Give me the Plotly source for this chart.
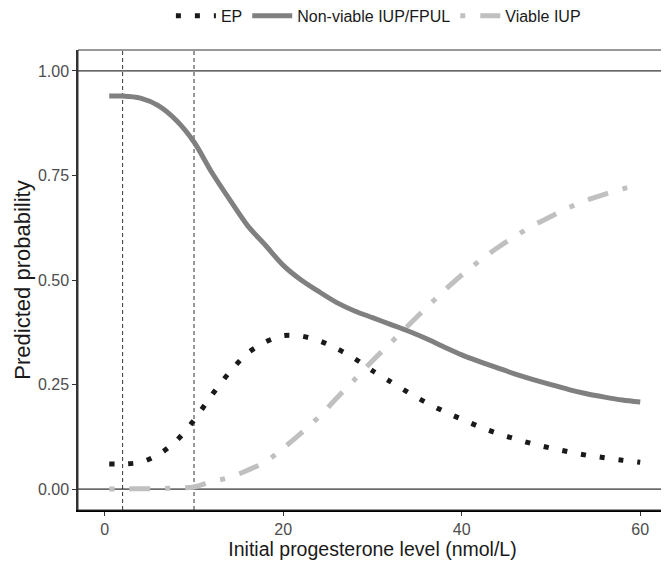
import plotly.graph_objects as go

# Initial progesterone level (nmol/L)
progesterone = [0.5, 2, 4, 6, 8, 10, 12, 14, 16, 18, 20, 22, 24, 26, 28, 30,
                32, 34, 36, 38, 40, 42, 44, 46, 48, 50, 52, 54, 56, 58, 60]

# Predicted probabilities
ep = [0.060, 0.060, 0.064, 0.082, 0.115, 0.165, 0.225, 0.280, 0.325, 0.352,
      0.367, 0.366, 0.355, 0.336, 0.312, 0.283, 0.257, 0.231, 0.207, 0.186,
      0.167, 0.149, 0.133, 0.120, 0.108, 0.098, 0.089, 0.081, 0.075, 0.069, 0.064]

nonviable = [0.940, 0.940, 0.935, 0.917, 0.882, 0.830, 0.757, 0.692, 0.630, 0.583,
             0.535, 0.500, 0.472, 0.446, 0.426, 0.410, 0.394, 0.378, 0.360, 0.340,
             0.321, 0.305, 0.290, 0.275, 0.262, 0.250, 0.238, 0.228, 0.220, 0.213, 0.208]

viable = [0.000, 0.000, 0.001, 0.001, 0.003, 0.005, 0.018, 0.028, 0.045, 0.065,
          0.098, 0.134, 0.173, 0.218, 0.262, 0.307, 0.349, 0.391, 0.433, 0.474,
          0.512, 0.546, 0.577, 0.605, 0.630, 0.652, 0.673, 0.691, 0.705, 0.718, 0.728]

series_names = ["EP", "Non-viable IUP/FPUL", "Viable IUP"]

x_ticks = [0, 20, 40, 60]
y_ticks = [0, 0.25, 0.5, 0.75, 1.0]
y_ticklabels = ["0.00", "0.25", "0.50", "0.75", "1.00"]

vline_x = [2, 10]
hline_y = [0, 1]

x_title = "Initial progesterone level (nmol/L)"
y_title = "Predicted probability"

FONT = "Liberation Sans, Arial, sans-serif"

fig = go.Figure()

fig.add_trace(go.Scatter(
    x=progesterone, y=ep, name=series_names[0], mode="lines",
    line=dict(color="#1a1a1a", width=5, dash="5px,14px", shape="spline", smoothing=0.8),
))
fig.add_trace(go.Scatter(
    x=progesterone, y=nonviable, name=series_names[1], mode="lines",
    line=dict(color="#808080", width=5, shape="spline", smoothing=0.8),
))
fig.add_trace(go.Scatter(
    x=progesterone, y=viable, name=series_names[2], mode="lines",
    line=dict(color="#c0c0c0", width=5, dash="5px,15px,21px,15px", shape="spline", smoothing=0.8),
))

# reference lines
for v in vline_x:
    fig.add_shape(type="line", xref="x", yref="paper", x0=v, x1=v, y0=0, y1=1,
                  line=dict(color="#333333", width=1, dash="4px,3px"), layer="below")
for h in hline_y:
    fig.add_shape(type="line", xref="paper", yref="y", x0=0, x1=1, y0=h, y1=h,
                  line=dict(color="black", width=1), layer="below")

# panel border
fig.add_shape(type="rect", xref="paper", yref="paper", x0=0, x1=1, y0=0, y1=1,
              line=dict(color="#333333", width=1), layer="above")

# page body has an 8px default margin, so the figure is sized to fit inside the window
fig.update_layout(
    width=661, height=554,
    margin=dict(l=70, r=2, t=42, b=52, autoexpand=False),
    plot_bgcolor="white", paper_bgcolor="white",
    font=dict(family=FONT, color="#1a1a1a"),
    showlegend=True,
    legend=dict(orientation="h", x=0.51, xanchor="center", y=1.074, yanchor="middle",
                font=dict(size=16, color="#1a1a1a", family=FONT),
                itemwidth=40, bgcolor="rgba(0,0,0,0)"),
)

fig.update_xaxes(
    range=[-3, 63], tickvals=x_ticks, ticks="outside", ticklen=4, tickcolor="#333333",
    tickfont=dict(size=16, color="#4d4d4d", family=FONT),
    showgrid=False, zeroline=False, showline=True, linecolor="black", linewidth=2,
    title=dict(text=x_title, font=dict(size=19.5, color="#1a1a1a", family=FONT),
               standoff=3),
)
fig.update_yaxes(
    range=[-0.05, 1.05], tickvals=y_ticks, ticktext=y_ticklabels, ticks="outside", ticklen=4,
    tickcolor="#333333", tickfont=dict(size=16, color="#4d4d4d", family=FONT),
    showgrid=False, zeroline=False, showline=True, linecolor="#333333", linewidth=1.5,
    title=dict(text=y_title, font=dict(size=22, color="#1a1a1a", family=FONT), standoff=1),
)

fig.write_html("out.html")
